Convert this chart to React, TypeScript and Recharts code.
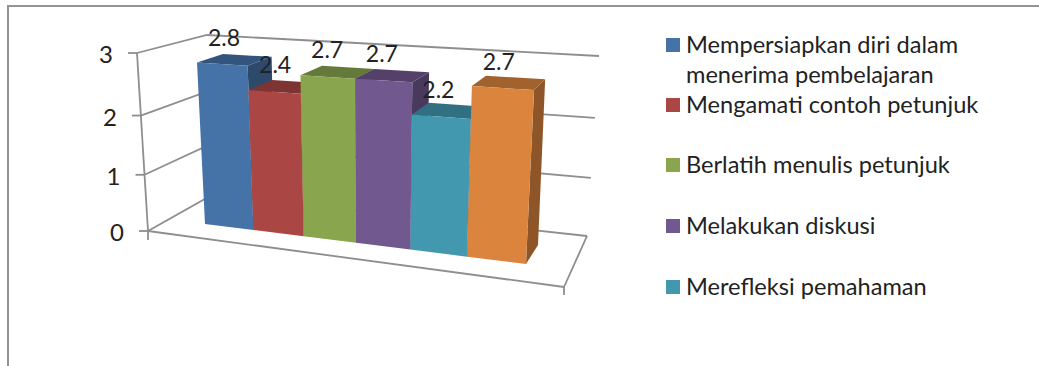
import React from "react";
import { Bar, BarChart, CartesianGrid, LabelList, Legend, XAxis, YAxis } from "recharts";

// Chart values
const seriesNames = [
  "Mempersiapkan diri dalam menerima pembelajaran",
  "Mengamati contoh petunjuk",
  "Berlatih menulis petunjuk",
  "Melakukan diskusi",
  "Merefleksi pemahaman",
  "",
];
const seriesValues = [2.8, 2.4, 2.7, 2.7, 2.2, 2.7];
const seriesColors = ["#4572A7", "#AA4643", "#89A54E", "#71588F", "#4198AF", "#DB843D"];
const valueTicks = [0, 1, 2, 3];
const valueMax = 3;

const chartRow: Record<string, number | string> = { category: "" };
seriesValues.forEach((v, i) => {
  chartRow[`s${i}`] = v;
});
const chartData = [chartRow];

// Flat plot rectangle handed to Recharts; its scales are then projected into the 3D view.
const W = 1039;
const H = 366;
const PLOT = { x: 100, y: 20, w: 840, h: 326 };
const AXIS_WIDTH = 1;

type Pt = [number, number];
type Quad = [Pt, Pt, Pt, Pt]; // (0,0), (1,0), (1,1), (0,1)

// Projective map of the unit square onto a quadrilateral.
function homography(q: Quad) {
  const [[x0, y0], [x1, y1], [x2, y2], [x3, y3]] = q;
  const dx1 = x1 - x2;
  const dx2 = x3 - x2;
  const sx = x0 - x1 + x2 - x3;
  const dy1 = y1 - y2;
  const dy2 = y3 - y2;
  const sy = y0 - y1 + y2 - y3;
  const den = dx1 * dy2 - dx2 * dy1;
  const g = (sx * dy2 - dx2 * sy) / den;
  const h = (dx1 * sy - sx * dy1) / den;
  const a = x1 - x0 + g * x1;
  const b = x3 - x0 + h * x3;
  const d = y1 - y0 + g * y1;
  const e = y3 - y0 + h * y3;
  return (u: number, v: number): Pt => {
    const w = g * u + h * v + 1;
    return [(a * u + b * v + x0) / w, (d * u + e * v + y0) / w];
  };
}

// Planes of the 3D scene
const barFront = homography([[205, 224], [526, 264], [535, 69.6], [196.4, 50.4]]);
const barBack = homography([[228.6, 208], [538, 245], [546, 60], [222.6, 42.5]]);
const backWall = homography([[212, 195], [587, 236], [599, 56], [207, 35]]);
const sideWall = homography([[148, 231], [212, 195], [207, 35], [137, 53]]);

const GRID_COLOR = "#8e8e8e";
const GRID_WIDTH = 1.8;
const TEXT_COLOR = "#222222";
const FONT = "Lato, 'Open Sans', sans-serif";

const toU = (x: number) => (x - PLOT.x) / PLOT.w;
const toV = (y: number) => 1 - (y - PLOT.y) / PLOT.h;
const pts = (list: Pt[]) => list.map((p) => p.join(",")).join(" ");

function shade(hex: string, k: number) {
  const n = parseInt(hex.slice(1), 16);
  const c = [(n >> 16) & 255, (n >> 8) & 255, n & 255].map((x) => Math.round(x * k));
  return `rgb(${c.join(",")})`;
}

// A bar drawn as front, top and right faces from the rectangle Recharts computes.
function Bar3D(props: any) {
  const { x, y, width, height, fill } = props;
  const u0 = toU(x);
  const u1 = toU(x + width);
  const vTop = toV(y);
  const vBase = toV(y + height);
  return (
    <g>
      <polygon
        points={pts([barFront(u1, vBase), barBack(u1, vBase), barBack(u1, vTop), barFront(u1, vTop)])}
        fill={shade(fill, 0.65)}
      />
      <polygon
        points={pts([barFront(u0, vTop), barFront(u1, vTop), barBack(u1, vTop), barBack(u0, vTop)])}
        fill={shade(fill, 0.74)}
      />
      <polygon
        points={pts([barFront(u0, vBase), barFront(u1, vBase), barFront(u1, vTop), barFront(u0, vTop)])}
        fill={fill}
      />
    </g>
  );
}

// Value label centred above the bar's front top edge, drawn slightly towards the middle.
function ValueLabel(props: any) {
  const box = props.viewBox ?? props;
  const { x, y, width } = box;
  const u = toU(x + width / 2);
  const [cx, cy] = barFront(u, toV(y));
  return (
    <text
      x={cx + 2.5 - 7 * u}
      y={cy - 27.5}
      textAnchor="middle"
      dominantBaseline="central"
      fontFamily={FONT}
      fontSize={23}
      fill={TEXT_COLOR}
    >
      {props.value}
    </text>
  );
}

// Each grid value becomes a line across the side wall and the back wall,
// plus the matching stretch of the value axis; zero also draws the floor outline.
function GridLine(props: any) {
  const v = toV(props.y1);
  const isFloor = Math.abs(v) < 1e-6;
  const front = sideWall(0, v);
  const corner = sideWall(1, v);
  const end = backWall(1, v);
  const line = (a: Pt, b: Pt, key: string) => (
    <line key={key} x1={a[0]} y1={a[1]} x2={b[0]} y2={b[1]} stroke={GRID_COLOR} strokeWidth={GRID_WIDTH} />
  );
  return (
    <g key={props.key}>
      <polyline points={pts([front, corner, end])} fill="none" stroke={GRID_COLOR} strokeWidth={GRID_WIDTH} />
      {!isFloor && line(front, sideWall(0, v - 1 / valueMax), "axis")}
      {isFloor && line([148, 231], [148, 240], "axisEnd")}
      {isFloor && line([148, 231], [564, 287], "floorFront")}
      {isFloor && line([564, 287], [587, 236], "floorRight")}
      {isFloor && line([564, 287], [564, 295], "floorTick")}
    </g>
  );
}

// Tick mark and number on the front corner of the side wall.
function ValueTick(props: any) {
  const [ax, ay] = sideWall(0, toV(props.y));
  return (
    <g>
      <line x1={ax - 9} y1={ay} x2={ax} y2={ay} stroke={GRID_COLOR} strokeWidth={GRID_WIDTH} />
      <text
        x={ax - 31}
        y={ay + 0.5}
        textAnchor="middle"
        dominantBaseline="central"
        fontFamily={FONT}
        fontSize={24}
        fill={TEXT_COLOR}
      >
        {props.payload.value}
      </text>
    </g>
  );
}

const LEGEND_ROW_TOPS = [31, 91, 151, 212, 273];

function LegendList(props: any) {
  const items = (props.payload ?? []).filter((p: any) => p.value);
  return (
    <div style={{ position: "relative", width: W, height: H, fontFamily: FONT, color: TEXT_COLOR }}>
      {items.map((item: any, i: number) => (
        <div key={item.value} style={{ position: "absolute", left: 666, top: LEGEND_ROW_TOPS[i], width: 350 }}>
          <div
            style={{ position: "absolute", left: 0, top: 7, width: 14, height: 14, background: item.color }}
          />
          <div style={{ position: "relative", top: -2, marginLeft: 20, width: 300, fontSize: 23.6, lineHeight: "30px" }}>
            {item.value}
          </div>
        </div>
      ))}
    </div>
  );
}

export default function App() {
  return (
    <div style={{ position: "absolute", left: 0, top: 0, width: W, height: H, overflow: "hidden", background: "#fff" }}>
      <div style={{ position: "absolute", left: 7, top: 5, width: W - 7, height: 2, background: "#949494" }} />
      <div style={{ position: "absolute", left: 7, top: 5, width: 2, height: H - 5, background: "#949494" }} />
      <BarChart
        width={W}
        height={H}
        data={chartData}
        margin={{
          left: PLOT.x - AXIS_WIDTH,
          top: PLOT.y,
          right: W - PLOT.x - PLOT.w,
          bottom: H - PLOT.y - PLOT.h,
        }}
        barCategoryGap={0}
        barGap={0}
      >
        <XAxis dataKey="category" hide />
        <YAxis
          width={AXIS_WIDTH}
          domain={[0, valueMax]}
          ticks={valueTicks}
          interval={0}
          axisLine={false}
          tickLine={false}
          tick={ValueTick}
        />
        <CartesianGrid vertical={false} horizontal={GridLine} />
        {seriesValues.map((_, i) => (
          <Bar
            key={i}
            dataKey={`s${i}`}
            name={seriesNames[i]}
            fill={seriesColors[i]}
            legendType={seriesNames[i] ? "square" : "none"}
            shape={Bar3D}
            isAnimationActive={false}
          >
            <LabelList dataKey={`s${i}`} content={ValueLabel} />
          </Bar>
        ))}
        <Legend
          layout="vertical"
          align="center"
          verticalAlign="middle"
          itemSorter="dataKey"
          content={LegendList}
          wrapperStyle={{ position: "absolute", left: 0, top: 0, width: W, height: H, pointerEvents: "none" }}
        />
      </BarChart>
    </div>
  );
}
